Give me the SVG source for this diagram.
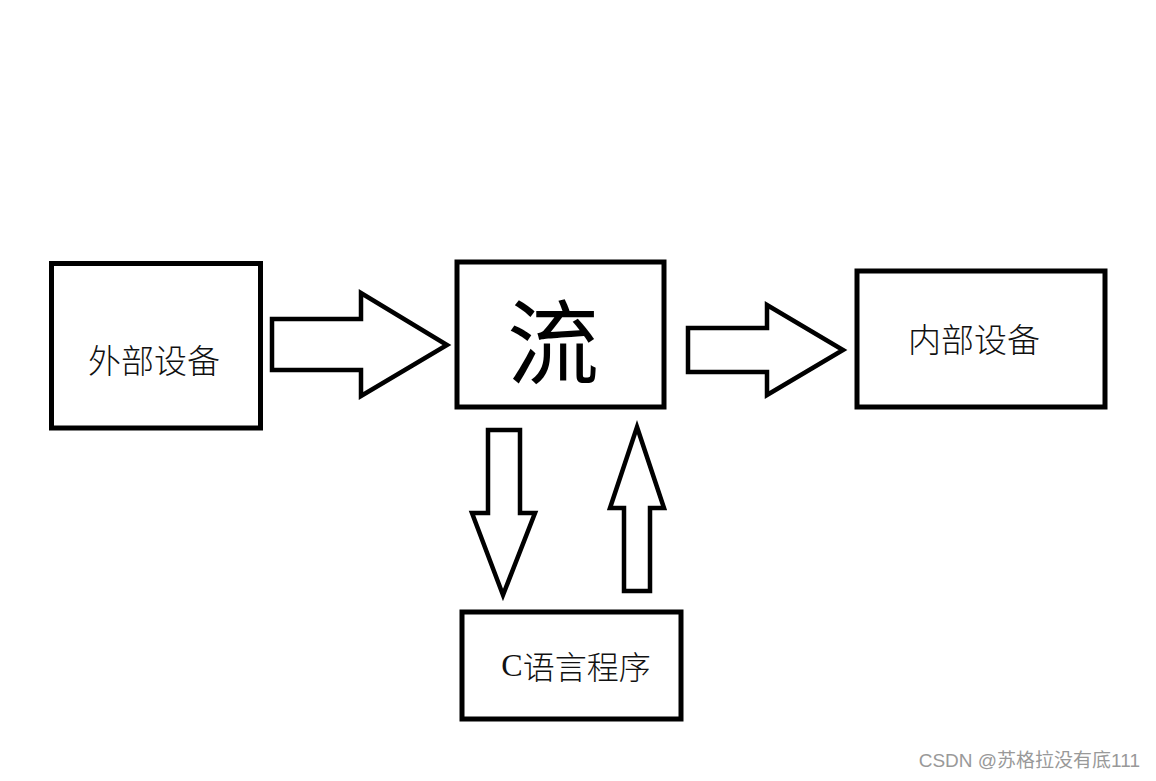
<svg xmlns="http://www.w3.org/2000/svg" width="1156" height="781" viewBox="0 0 1156 781">
<style>
.box{fill:#fff;stroke:#000;stroke-width:5}
.arr{fill:#fff;stroke:#000;stroke-width:4.5;stroke-linejoin:miter}
.lbl{font-family:"Noto Sans CJK SC","Liberation Sans",sans-serif;fill:#111;text-anchor:middle;dominant-baseline:central;font-weight:300}
.big{font-weight:400;fill:#000}
</style>
<rect width="1156" height="781" fill="#fff"/>
<g id="connectors">
<polygon class="arr" points="272,319 361,319 361,293 447,345 361,396 361,370 272,370"/>
<polygon class="arr" points="688,328 767,328 767,305 843,350 767,395 767,372 688,372"/>
<polygon class="arr" points="488,430 520,430 520,513 535,513 503,595 472,513 488,513"/>
<polygon class="arr" points="637,427 664,508 650,508 650,591 624,591 624,508 610,508"/>
</g>
<g id="external">
<rect class="box" x="51.5" y="263.5" width="209" height="164.5"/>
<text class="lbl" x="154" y="359" font-size="33">外部设备</text>
</g>
<g id="stream">
<rect class="box" x="457" y="262" width="207" height="145"/>
<text class="lbl big" x="553" y="336" font-size="92">流</text>
</g>
<g id="internal">
<rect class="box" x="857" y="271" width="248" height="136"/>
<text class="lbl" x="974" y="338" font-size="33">内部设备</text>
</g>
<g id="cprogram">
<rect class="box" x="462" y="612" width="219" height="107"/>
<text class="lbl" x="576" y="665" font-size="32"><tspan font-family="Liberation Serif,serif">C</tspan>语言程序</text>
</g>
<text x="1140" y="767" font-family="Liberation Sans,Noto Sans CJK SC,sans-serif" font-size="19" fill="#999" text-anchor="end">CSDN @苏格拉没有底111</text>
</svg>
